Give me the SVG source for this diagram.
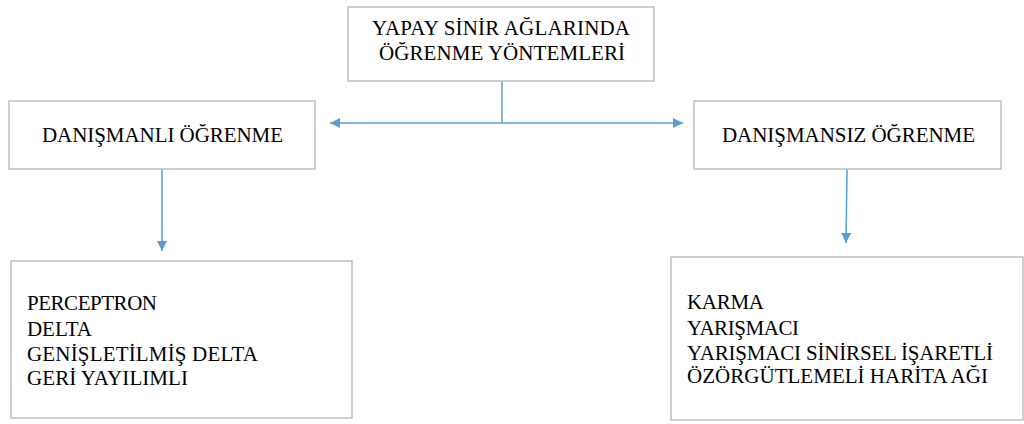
<svg xmlns="http://www.w3.org/2000/svg" width="1024" height="424" viewBox="0 0 1024 424">
<style>
.box{fill:#ffffff;stroke:#bfbfbf;stroke-width:1.5}
.t{font-family:"Liberation Serif","Times New Roman",serif;fill:#000000}
.big{font-size:21px}
.sm{font-size:21px}
.c{stroke:#5b9bd5;stroke-width:1.5;fill:none}
</style>
<defs>
<marker id="ah" viewBox="0 0 10 10" refX="10" refY="5" markerWidth="10" markerHeight="10" markerUnits="userSpaceOnUse" orient="auto">
<path d="M0,0 L10,5 L0,10 Z" fill="#5b9bd5"/>
</marker>
</defs>
<g id="connectors">
<line class="c" x1="502" y1="81" x2="502" y2="123"/>
<line class="c" x1="502" y1="123" x2="330" y2="123" marker-end="url(#ah)"/>
<line class="c" x1="502" y1="123" x2="683" y2="123" marker-end="url(#ah)"/>
<line class="c" x1="162" y1="169" x2="162" y2="251" marker-end="url(#ah)"/>
<line class="c" x1="847" y1="169" x2="846" y2="243" marker-end="url(#ah)"/>
</g>
<g id="root">
<rect class="box" x="348" y="7" width="306" height="74"/>
<text class="t big" x="372" y="35" textLength="258" lengthAdjust="spacing">YAPAY SİNİR AĞLARINDA</text>
<text class="t big" x="379" y="60" textLength="246" lengthAdjust="spacing">ÖĞRENME YÖNTEMLERİ</text>
</g>
<g id="supervised">
<rect class="box" x="9" y="101" width="306" height="68"/>
<text class="t big" x="42" y="142" textLength="241" lengthAdjust="spacing">DANIŞMANLI ÖĞRENME</text>
</g>
<g id="unsupervised">
<rect class="box" x="694" y="101" width="307" height="68"/>
<text class="t big" x="722" y="142" textLength="253" lengthAdjust="spacing">DANIŞMANSIZ ÖĞRENME</text>
</g>
<g id="supervised-list">
<rect class="box" x="11" y="261" width="341" height="157"/>
<text class="t sm" x="27" y="310" textLength="130" lengthAdjust="spacing">PERCEPTRON</text>
<text class="t sm" x="27" y="336" textLength="65" lengthAdjust="spacing">DELTA</text>
<text class="t sm" x="27" y="361" textLength="231" lengthAdjust="spacing">GENİŞLETİLMİŞ DELTA</text>
<text class="t sm" x="27" y="385" textLength="161" lengthAdjust="spacing">GERİ YAYILIMLI</text>
</g>
<g id="unsupervised-list">
<rect class="box" x="671" y="257" width="352" height="163"/>
<text class="t sm" x="687" y="309" textLength="77" lengthAdjust="spacing">KARMA</text>
<text class="t sm" x="687" y="335" textLength="112" lengthAdjust="spacing">YARIŞMACI</text>
<text class="t sm" x="687" y="360" textLength="306" lengthAdjust="spacing">YARIŞMACI SİNİRSEL İŞARETLİ</text>
<text class="t sm" x="687" y="383" textLength="301" lengthAdjust="spacing">ÖZÖRGÜTLEMELİ HARİTA AĞI</text>
</g>
</svg>
